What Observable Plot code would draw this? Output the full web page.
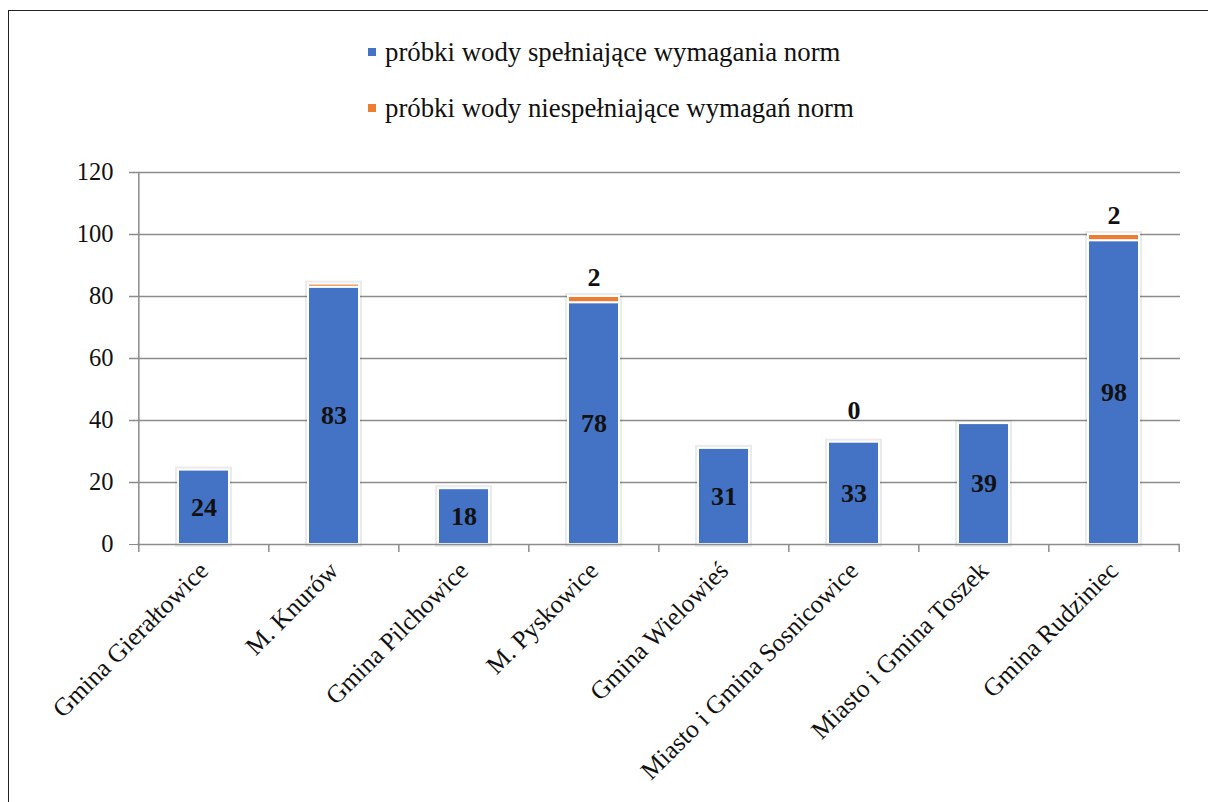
<!DOCTYPE html>
<html>
<head>
<meta charset="utf-8">
<script src="https://cdn.jsdelivr.net/npm/d3@7"></script>
<script src="https://cdn.jsdelivr.net/npm/@observablehq/plot@0.6"></script>
<style>
  html, body { margin: 0; padding: 0; background: #fff; }
  #wrap { position: relative; width: 1208px; height: 802px; overflow: hidden; font-family: "Liberation Serif", "Times New Roman", serif; }
  #border { position: absolute; left: 8px; top: 10px; width: 1300px; height: 900px; border: 1.5px solid #222; box-sizing: border-box; }
  .lg { position: absolute; left: 368px; height: 30px; line-height: 30px; display: flex; align-items: center; font-size: 26.8px; color: #111; white-space: nowrap; }
  .lg span.sw { display: inline-block; width: 8px; height: 8px; margin-right: 9px; }
  #chart { position: absolute; left: 0; top: 140px; }
</style>
</head>
<body>
<div id="wrap">
  <div id="border"></div>
  <div id="legend"></div>
  <div id="chart"></div>
</div>
<script>
const categories = ["Gmina Gierałtowice", "M. Knurów", "Gmina Pilchowice", "M. Pyskowice", "Gmina Wielowieś", "Miasto i Gmina Sosnicowice", "Miasto i Gmina Toszek", "Gmina Rudziniec"];
const compliant = [24, 83, 18, 78, 31, 33, 39, 98];
const nonCompliant = [0, 1, 0, 2, 0, 0, 0, 2];
const showNonCompliantLabel = [false, false, false, true, false, true, false, true];
const seriesNames = ["próbki wody spełniające wymagania norm", "próbki wody niespełniające wymagań norm"];
const seriesColors = ["#4472C4", "#ED7D31"];
const yTicks = [0, 20, 40, 60, 80, 100, 120];

// legend
const legend = document.getElementById("legend");
seriesNames.forEach((name, i) => {
  const d = document.createElement("div");
  d.className = "lg";
  d.style.top = (i === 0 ? 37 : 93) + "px";
  d.innerHTML = `<span class="sw" style="background:${seriesColors[i]}"></span><span>${name}</span>`;
  legend.appendChild(d);
});

const rows = [];
categories.forEach((c, i) => {
  rows.push({cat: c, series: seriesNames[0], value: compliant[i]});
  rows.push({cat: c, series: seriesNames[1], value: nonCompliant[i]});
});
const totals = categories.map((c, i) => ({cat: c, total: compliant[i] + nonCompliant[i], nc: nonCompliant[i], show: showNonCompliantLabel[i]}));
const blueLabels = categories.map((c, i) => ({cat: c, v: compliant[i]}));

const W = 1208, H = 662;
const mL = 137, mR = 28, mT = 32, mB = 258;
const bandW = (W - mL - mR) / categories.length;
const plotH = H - mT - mB;
const tickLen = 8 * 120 / plotH;
const FONT = "'Liberation Serif', 'Times New Roman', serif";

const chart = Plot.plot({
  width: W,
  height: H,
  marginLeft: mL,
  marginRight: mR,
  marginTop: mT,
  marginBottom: mB,
  style: {fontFamily: FONT, color: "#111", background: "transparent"},
  x: {domain: categories, paddingInner: 0.61, paddingOuter: 0.305, label: null},
  y: {domain: [0, 120], label: null},
  color: {domain: seriesNames, range: seriesColors},
  marks: [
    Plot.ruleY(yTicks.filter(t => t > 0), {y: d => d, stroke: "#8c8c8c", strokeWidth: 1.5, insetLeft: -8}),
    Plot.ruleX([0], {x: () => categories[0], dx: -bandW / 2, y1: 0, y2: 120, stroke: "#8c8c8c", strokeWidth: 1.5}),
    Plot.axisY({ticks: yTicks, tickSize: 8, tickPadding: 16, fontSize: 24.5, stroke: "#8c8c8c", tickFormat: d => d, fill: "#111", fontFamily: FONT}),
    Plot.barY(totals, {x: "cat", y: "total", fill: "none", stroke: "#000", strokeOpacity: 0.08, strokeWidth: 6}),
    Plot.barY(rows, Plot.stackY({x: "cat", y: "value", fill: "series", stroke: "white", strokeWidth: 2})),
    Plot.ruleY([0], {stroke: "#8c8c8c", strokeWidth: 1.5}),
    Plot.ruleX(categories, {x: d => d, dx: -bandW / 2, y1: 0, y2: -tickLen, stroke: "#8c8c8c", strokeWidth: 1.5}),
    Plot.ruleX([categories[categories.length - 1]], {x: d => d, dx: bandW / 2, y1: 0, y2: -tickLen, stroke: "#8c8c8c", strokeWidth: 1.5}),
    Plot.axisX({tickSize: 0, tickRotate: -45, tickPadding: 22, fontSize: 25.5, textAnchor: "end", dx: 0, fill: "#111", fontFamily: FONT}),
    Plot.text(blueLabels, {x: "cat", y: d => d.v / 2, text: d => String(d.v), fontSize: 26, fontWeight: "bold", fill: "#111", fontFamily: FONT}),
    Plot.text(totals.filter(d => d.show && d.nc > 0), {x: "cat", y: "total", text: d => String(d.nc), dy: -19, fontSize: 26, fontWeight: "bold", fill: "#111", fontFamily: FONT}),
    Plot.text(totals.filter(d => d.show && d.nc === 0), {x: "cat", y: "total", text: d => String(d.nc), dy: -32, fontSize: 26, fontWeight: "bold", fill: "#111", fontFamily: FONT})
  ]
});
document.getElementById("chart").appendChild(chart);
</script>
</body>
</html>
